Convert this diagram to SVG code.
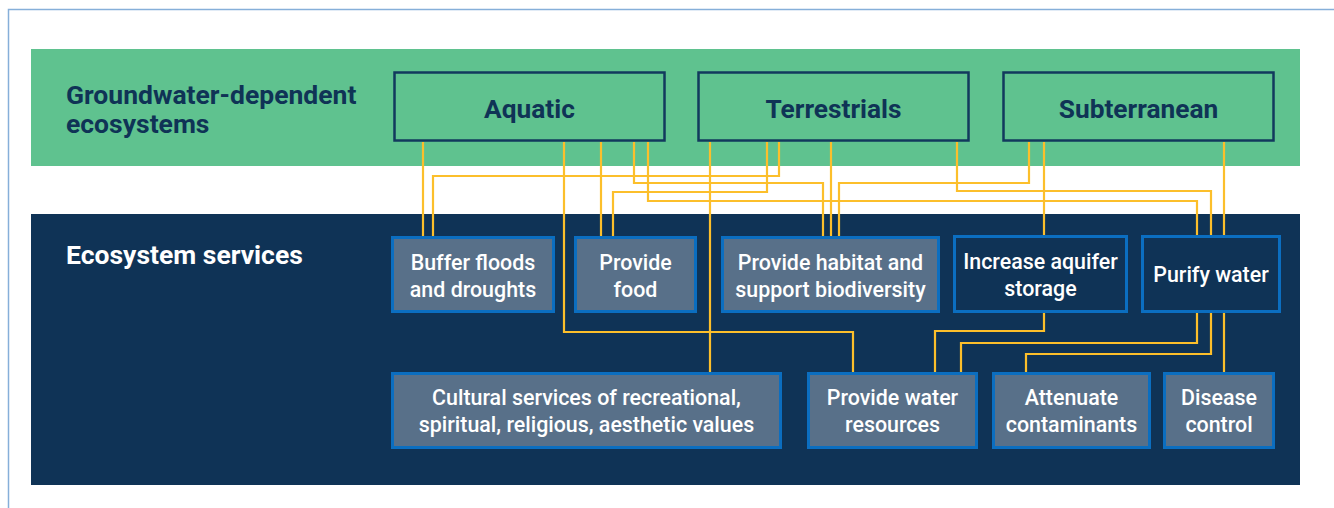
<svg xmlns="http://www.w3.org/2000/svg" width="1334" height="508" viewBox="0 0 1334 508">
<style>
.frame{fill:none;stroke:#86afd9;stroke-width:1.5}
.gde{fill:none;stroke:#12395d;stroke-width:2.5}
.svc{fill:#587089;stroke:#0b6ec0;stroke-width:3}
.svcd{fill:#0f3356;stroke:#0b6ec0;stroke-width:3}
.conn path{fill:none;stroke:#fcbf2b;stroke-width:2.2}
.hd{font-family:Roboto,"Liberation Sans",sans-serif;font-weight:700;font-size:26.5px;fill:#0f3356}
.hw{font-family:Roboto,"Liberation Sans",sans-serif;font-weight:700;font-size:26.5px;fill:#ffffff}
.st{font-family:Roboto,"Liberation Sans",sans-serif;font-weight:500;font-size:21.4px;fill:#ffffff;text-anchor:middle}
.tl{font-family:Roboto,"Liberation Sans",sans-serif;font-weight:700;font-size:26.3px;fill:#0f3356;text-anchor:middle}
</style>
<rect x="0" y="0" width="1334" height="508" fill="#ffffff"/>
<path class="frame" d="M8.5 508 V9.5 H1334"/>
<rect id="band-gde" x="31" y="49" width="1269" height="117" fill="#5fc28f"/>
<rect id="band-es" x="31" y="214" width="1269" height="271" fill="#0f3356"/>
<g id="title-gde"><text class="hd" x="66" y="104">Groundwater-dependent</text><text class="hd" x="66" y="133">ecosystems</text></g>
<g id="title-es"><text class="hw" x="66" y="264">Ecosystem services</text></g>

<g class="conn" id="connectors">
<path d="M423 142 V236"/>
<path d="M779 142 V176 H433 V236"/>
<path d="M564 142 V332 H853 V372"/>
<path d="M601 142 V236"/>
<path d="M767 142 V192 H613 V236"/>
<path d="M634 142 V183 H823 V236"/>
<path d="M648 142 V201 H1197 V236"/>
<path d="M710 142 V372"/>
<path d="M831 142 V236"/>
<path d="M1029 142 V183 H839 V236"/>
<path d="M957 142 V191 H1211 V236"/>
<path d="M1044 142 V236"/>
<path d="M1224 142 V236"/>
<path d="M1044 313 V331 H935 V372"/>
<path d="M1197 313 V343 H961 V372"/>
<path d="M1211 313 V354 H1026 V372"/>
<path d="M1224 313 V372"/>
</g>

<g id="aquatic"><rect class="gde" x="394.5" y="72.5" width="270" height="68"/><text class="tl" x="529.5" y="118">Aquatic</text></g>
<g id="terrestrials"><rect class="gde" x="698.5" y="72.5" width="270" height="68"/><text class="tl" x="833.5" y="118">Terrestrials</text></g>
<g id="subterranean"><rect class="gde" x="1003.5" y="72.5" width="270" height="68"/><text class="tl" x="1138.5" y="118">Subterranean</text></g>

<g id="buffer"><rect class="svc" x="392.5" y="237.5" width="161" height="74"/><text class="st" x="473" y="270">Buffer floods</text><text class="st" x="473" y="297">and droughts</text></g>
<g id="food"><rect class="svc" x="575.5" y="237.5" width="120" height="74"/><text class="st" x="635.5" y="270">Provide</text><text class="st" x="635.5" y="297">food</text></g>
<g id="habitat"><rect class="svc" x="722.5" y="237.5" width="216" height="74"/><text class="st" x="830.5" y="270">Provide habitat and</text><text class="st" x="830.5" y="297">support biodiversity</text></g>
<g id="aquifer"><rect class="svcd" x="954.5" y="236.5" width="172" height="75"/><text class="st" x="1040.5" y="269">Increase aquifer</text><text class="st" x="1040.5" y="296">storage</text></g>
<g id="purify"><rect class="svcd" x="1142.5" y="236.5" width="137" height="75"/><text class="st" x="1211" y="282">Purify water</text></g>

<g id="cultural"><rect class="svc" x="392.5" y="373.5" width="388" height="74"/><text class="st" x="586.5" y="405">Cultural services of recreational,</text><text class="st" x="586.5" y="432">spiritual, religious, aesthetic values</text></g>
<g id="water"><rect class="svc" x="808.5" y="373.5" width="168" height="74"/><text class="st" x="892.5" y="405">Provide water</text><text class="st" x="892.5" y="432">resources</text></g>
<g id="attenuate"><rect class="svc" x="993.5" y="373.5" width="156" height="74"/><text class="st" x="1071.5" y="405">Attenuate</text><text class="st" x="1071.5" y="432">contaminants</text></g>
<g id="disease"><rect class="svc" x="1164.5" y="373.5" width="109" height="74"/><text class="st" x="1219" y="405">Disease</text><text class="st" x="1219" y="432">control</text></g>
</svg>
